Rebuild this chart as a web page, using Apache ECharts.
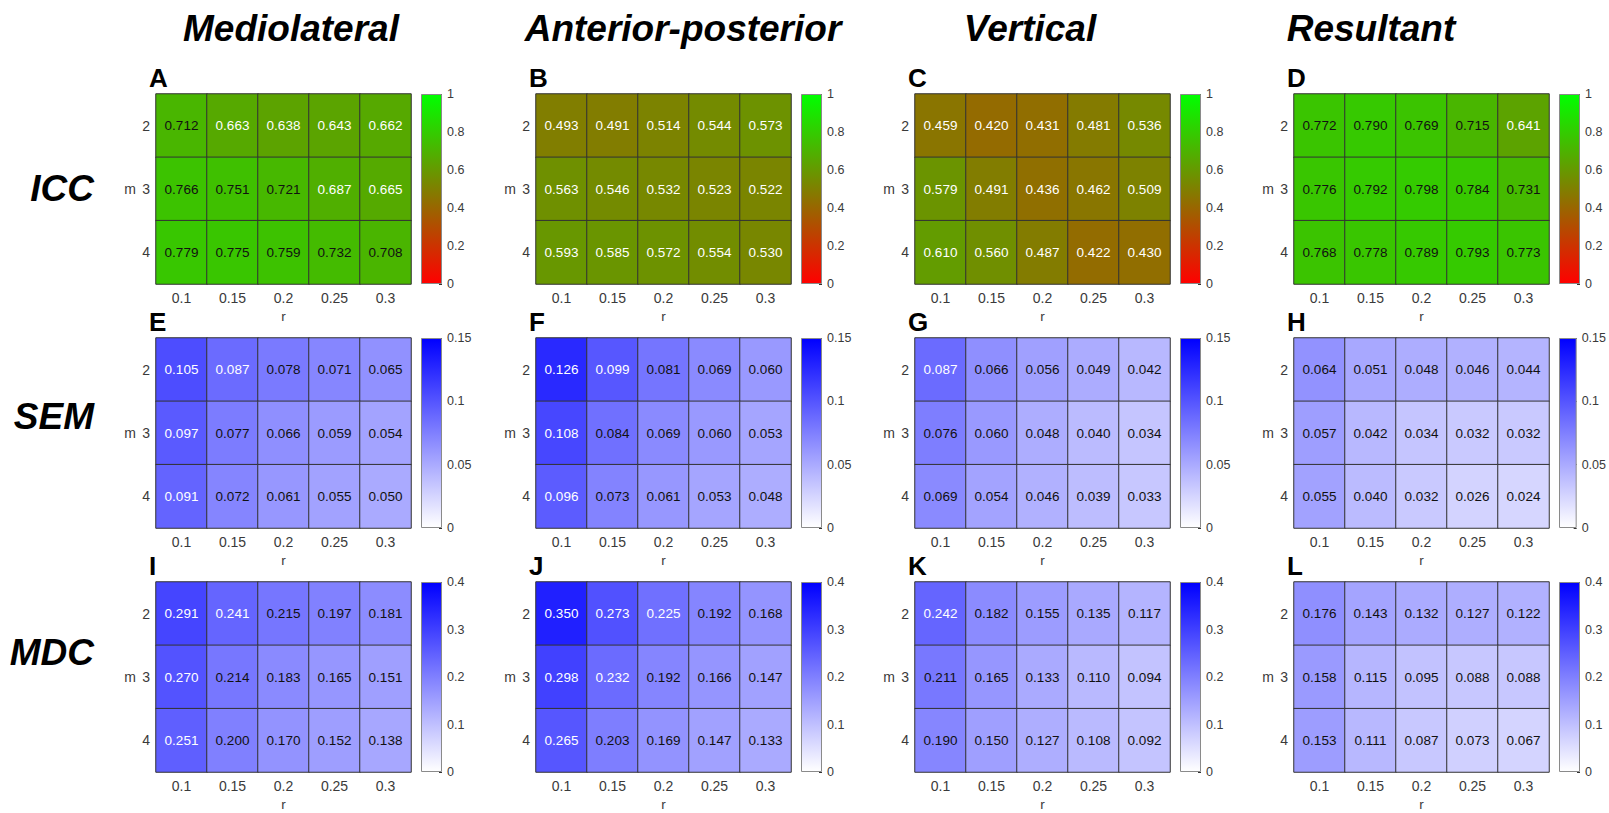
<!DOCTYPE html>
<html>
<head>
<meta charset="utf-8">
<script src="https://cdn.jsdelivr.net/npm/echarts@6/dist/echarts.min.js"></script>
<style>
html,body{margin:0;padding:0;background:#ffffff;}
#chart{width:1609px;height:813px;}
</style>
</head>
<body>
<div id="chart"></div>
<script>
// ---------------- data ----------------
const rValues = ['0.1', '0.15', '0.2', '0.25', '0.3'];   // x categories (r)
const mValues = ['2', '3', '4'];                          // y categories (m)
const columnTitles = ['Mediolateral', 'Anterior-posterior', 'Vertical', 'Resultant'];
const rowTitles = ['ICC', 'SEM', 'MDC'];
const panelLetters = [['A', 'B', 'C', 'D'], ['E', 'F', 'G', 'H'], ['I', 'J', 'K', 'L']];

// colour-bar scales per metric row
const scaleMax = [1, 0.15, 0.4];
const scaleInterval = [0.2, 0.05, 0.1];
const iccColors = ['#ff0000', '#00ff00'];
const errColors = ['#ffffff', '#0000ff'];

// rows = m (2,3,4), columns = r (0.1 .. 0.3)
const iccMediolateral = [[0.712, 0.663, 0.638, 0.643, 0.662], [0.766, 0.751, 0.721, 0.687, 0.665], [0.779, 0.775, 0.759, 0.732, 0.708]];
const iccAnteriorPosterior = [[0.493, 0.491, 0.514, 0.544, 0.573], [0.563, 0.546, 0.532, 0.523, 0.522], [0.593, 0.585, 0.572, 0.554, 0.530]];
const iccVertical = [[0.459, 0.420, 0.431, 0.481, 0.536], [0.579, 0.491, 0.436, 0.462, 0.509], [0.610, 0.560, 0.487, 0.422, 0.430]];
const iccResultant = [[0.772, 0.790, 0.769, 0.715, 0.641], [0.776, 0.792, 0.798, 0.784, 0.731], [0.768, 0.778, 0.789, 0.793, 0.773]];

const semMediolateral = [[0.105, 0.087, 0.078, 0.071, 0.065], [0.097, 0.077, 0.066, 0.059, 0.054], [0.091, 0.072, 0.061, 0.055, 0.050]];
const semAnteriorPosterior = [[0.126, 0.099, 0.081, 0.069, 0.060], [0.108, 0.084, 0.069, 0.060, 0.053], [0.096, 0.073, 0.061, 0.053, 0.048]];
const semVertical = [[0.087, 0.066, 0.056, 0.049, 0.042], [0.076, 0.060, 0.048, 0.040, 0.034], [0.069, 0.054, 0.046, 0.039, 0.033]];
const semResultant = [[0.064, 0.051, 0.048, 0.046, 0.044], [0.057, 0.042, 0.034, 0.032, 0.032], [0.055, 0.040, 0.032, 0.026, 0.024]];

const mdcMediolateral = [[0.291, 0.241, 0.215, 0.197, 0.181], [0.270, 0.214, 0.183, 0.165, 0.151], [0.251, 0.200, 0.170, 0.152, 0.138]];
const mdcAnteriorPosterior = [[0.350, 0.273, 0.225, 0.192, 0.168], [0.298, 0.232, 0.192, 0.166, 0.147], [0.265, 0.203, 0.169, 0.147, 0.133]];
const mdcVertical = [[0.242, 0.182, 0.155, 0.135, 0.117], [0.211, 0.165, 0.133, 0.110, 0.094], [0.190, 0.150, 0.127, 0.108, 0.092]];
const mdcResultant = [[0.176, 0.143, 0.132, 0.127, 0.122], [0.158, 0.115, 0.095, 0.088, 0.088], [0.153, 0.111, 0.087, 0.073, 0.067]];

const panels = [
  [iccMediolateral, iccAnteriorPosterior, iccVertical, iccResultant],
  [semMediolateral, semAnteriorPosterior, semVertical, semResultant],
  [mdcMediolateral, mdcAnteriorPosterior, mdcVertical, mdcResultant]
];

// ---------------- layout / style ----------------
const FONT = "'Liberation Sans', Arial, Helvetica, sans-serif";
const AXIS_COLOR = '#3a3a3a';
const colLeft = [156, 536, 915, 1294];
const rowTop = [94, 338, 582];
const GW = 255, GH = 190;
const titleCenters = [291, 683, 1030, 1371];
const rowTitleY = [188, 416, 652];

function whiteText(ri, v) {
  const f = v / scaleMax[ri];
  if (ri === 0) return f < 0.7;      // dark olive / brown cells
  return f > 0.561;                  // saturated blue cells
}

const chart = echarts.init(document.getElementById('chart'), null, { renderer: 'svg', width: 1609, height: 813 });

const grids = [], xAxes = [], yAxes = [], series = [], visualMaps = [], graphics = [];

panels.forEach((row, ri) => {
  const palette = ri === 0 ? iccColors : errColors;
  row.forEach((vals, ci) => {
    const gi = grids.length;
    grids.push({ left: colLeft[ci], top: rowTop[ri], width: GW, height: GH });
    xAxes.push({
      type: 'category', gridIndex: gi, data: rValues, position: 'bottom',
      name: 'r', nameLocation: 'middle', nameGap: 25,
      nameTextStyle: { color: AXIS_COLOR, fontSize: 13.5, fontFamily: FONT },
      axisLine: { show: false }, axisTick: { show: false }, splitLine: { show: false },
      axisLabel: { margin: 7, color: AXIS_COLOR, fontSize: 14, fontFamily: FONT }
    });
    yAxes.push({
      type: 'category', gridIndex: gi, data: mValues, inverse: true,
      name: 'm', nameLocation: 'middle', nameRotate: 0, nameGap: 20,
      nameTextStyle: { color: AXIS_COLOR, fontSize: 14, fontFamily: FONT, align: 'right', verticalAlign: 'middle' },
      axisLine: { show: false }, axisTick: { show: false }, splitLine: { show: false },
      axisLabel: { margin: 6, color: AXIS_COLOR, fontSize: 14, fontFamily: FONT }
    });
    const data = [];
    vals.forEach((rowVals, yi) => rowVals.forEach((v, xi) => data.push([xi, yi, v])));
    const si = series.length;
    series.push({
      type: 'heatmap', xAxisIndex: gi, yAxisIndex: gi, data: data,
      itemStyle: { borderColor: '#333333', borderWidth: 1 },
      emphasis: { disabled: true },
      label: {
        show: true,
        formatter: (p) => (whiteText(ri, p.value[2]) ? '{w|' : '{k|') + p.value[2].toFixed(3) + '}',
        rich: {
          w: { color: '#ffffff', fontSize: 13.5, fontFamily: FONT },
          k: { color: '#111111', fontSize: 13.5, fontFamily: FONT }
        }
      }
    });
    visualMaps.push({
      type: 'continuous', show: false, seriesIndex: si, dimension: 2,
      min: 0, max: scaleMax[ri], inRange: { color: palette }
    });

    // colour bar
    const cg = grids.length;
    grids.push({ left: colLeft[ci] + 265, top: rowTop[ri], width: 21, height: GH });
    xAxes.push({ type: 'category', gridIndex: cg, data: ['scale'], show: false });
    yAxes.push({
      type: 'value', gridIndex: cg, min: 0, max: scaleMax[ri], interval: scaleInterval[ri],
      position: 'right',
      axisLine: { show: false },
      axisTick: { show: true, inside: true, length: 3, lineStyle: { color: '#333333' } },
      splitLine: { show: false },
      axisLabel: { margin: 5, color: AXIS_COLOR, fontSize: 12.5, fontFamily: FONT }
    });
    series.push({
      type: 'bar', xAxisIndex: cg, yAxisIndex: cg, data: [scaleMax[ri]],
      barWidth: '100%', silent: true,
      itemStyle: {
        color: { type: 'linear', x: 0, y: 0, x2: 0, y2: 1,
          colorStops: [{ offset: 0, color: palette[1] }, { offset: 1, color: palette[0] }] },
        borderColor: '#8a8a8a', borderWidth: 1
      }
    });

    graphics.push({
      type: 'text', x: colLeft[ci] - 7, y: rowTop[ri] - 16,
      style: { text: panelLetters[ri][ci], font: 'bold 26px ' + FONT, fill: '#000', align: 'left', verticalAlign: 'middle' }
    });
  });
  graphics.push({
    type: 'text', x: 94, y: rowTitleY[ri],
    style: { text: rowTitles[ri], font: 'italic bold 37px ' + FONT, fill: '#000', align: 'right', verticalAlign: 'middle' }
  });
});

columnTitles.forEach((t, ci) => {
  graphics.push({
    type: 'text', x: titleCenters[ci], y: 28,
    style: { text: t, font: 'italic bold 37px ' + FONT, fill: '#000', align: 'center', verticalAlign: 'middle' }
  });
});

chart.setOption({
  backgroundColor: '#ffffff',
  animation: false,
  grid: grids,
  xAxis: xAxes,
  yAxis: yAxes,
  visualMap: visualMaps,
  series: series,
  graphic: graphics
});
</script>
</body>
</html>
